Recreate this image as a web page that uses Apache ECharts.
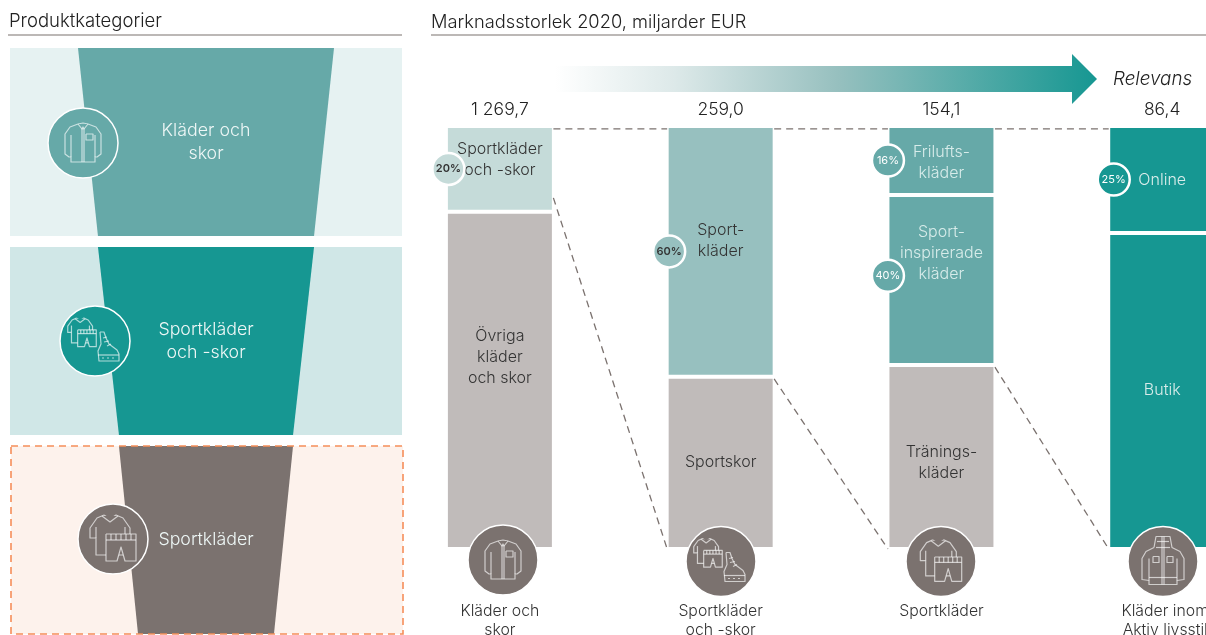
<!DOCTYPE html>
<html>
<head>
<meta charset="utf-8">
<title>Marknadsstorlek 2020</title>
<script src="https://cdn.jsdelivr.net/npm/echarts@6/dist/echarts.min.js"></script>
<style>
html, body { margin: 0; padding: 0; background: #fff; }
#grafico { width: 1206px; height: 635px; }
</style>
</head>
<body>
<div id="grafico"></div>
<script>
// data
var categorias = ['Kläder och\nskor', 'Sportkläder\noch -skor', 'Sportkläder', 'Kläder inom\nAktiv livsstil'];
var totais = [1269.7, 259.0, 154.1, 86.4];

// share of each column in %, from the top down
var andelTopp = [20.3, 59.3, 16.3, 25.3];
var andelMitt = [79.7, 40.7, 40.2, 74.7];
var andelBotten = [null, null, 43.5, null];
var etiketterTopp = ['Sportkläder\noch -skor', 'Sport-\nkläder', 'Frilufts-\nkläder', 'Online'];
var etiketterMitt = ['Övriga\nkläder\noch skor', 'Sportskor', 'Sport-\ninspirerade\nkläder', 'Butik'];
var etiketterBotten = ['', '', 'Tränings-\nkläder', ''];

// circles on the left edge of the columns
var bubblaKolumn = [0, 1, 2, 2, 3];
var bubblaSegment = [0, 0, 0, 1, 0];
var bubblaAndel = [20, 60, 16, 40, 25];

// where the dashed lines leave each column, in % of column height
var linjeStart = [17, 59.8, 57];

// left panel funnel
var trattNamn = ['Kläder och\nskor', 'Sportkläder\noch -skor', 'Sportkläder', ''];
var trattVarden = [100, 84.4, 68, 53.1];

var TEAL = '#169792', TEAL2 = '#66a9a8', TEAL3 = '#97c0bf', TEAL4 = '#c5dbd9';
var GRA = '#7b726f', LJUSGRA = '#c0bbba', MORK = '#333333', LJUS = '#d8ecea';
var FONT = 'Inter';
var BAR_W = 105;

function cirkelY(i) {
    // middle of the segment the circle belongs to, a bit higher for the second one
    var k = bubblaKolumn[i];
    if (bubblaSegment[i] === 0) return andelTopp[k] / 2;
    return andelTopp[k] + andelMitt[k] / 2 - 1;
}

function formatTotal(v) {
    return v.toFixed(1).replace('.', ',').replace(/^(\d+)(\d{3}),/, '$1 $2,');
}

function flytta(lines, dx, dy, s) {
    return lines.map(function (l) {
        return l.map(function (p) { return [p[0] * s + dx, p[1] * s + dy]; });
    });
}

// line icons, drawn around 0,0
var SKJORTA = [
    [[-5, -19], [-13, -16], [-18, -9], [-18, 11], [-14, 14], [-12, 14], [-12, 19], [12, 19], [12, 14], [14, 14], [18, 11], [18, -9], [13, -16], [5, -19], [0, -20], [-5, -19]],
    [[-12, -8], [-12, 14]], [[12, -8], [12, 14]],
    [[-1, -15], [-1, 19]], [[1, -15], [1, 19]],
    [[-5, -19], [-1, -14], [0, -16], [1, -14], [5, -19]],
    [[3, -9], [10, -9], [10, -3], [3, -3], [3, -9]]
];
var TROJA_SHORTS = [
    [[-9, -24], [-16, -21], [-23, -11], [-23, -1], [-17, -1], [-17, 16], [12, 16], [12, -1], [17, -1], [17, -11], [10, -21], [3, -24], [-3, -20], [-9, -24]],
    [[-17, -12], [-17, -1]], [[12, -12], [12, -1]],
    [[-11, -23], [-3, -17], [5, -23]],
    [[-7, -5], [23, -5], [23, 22], [12, 22], [8, 8], [4, 22], [-7, 22], [-7, -5]],
    [[-7, 1], [23, 1]],
    [[-2, -5], [-2, 1]], [[3, -5], [3, 1]], [[8, -5], [8, 1]], [[13, -5], [13, 1]], [[18, -5], [18, 1]]
];
var SKO = [
    [[5, -9], [9, -9], [11, -3], [14, 3], [22, 9], [24, 13], [24, 20], [4, 20], [3, 10], [6, 3], [5, -9]],
    [[3, 14], [24, 14]],
    [[7, 17], [9, 17]], [[12, 17], [14, 17]], [[17, 17], [19, 17]],
    [[8, -3], [12, -4]], [[9, 1], [14, 0]], [[12, 5], [16, 3]]
];
var TROJA_SKO = flytta(TROJA_SHORTS, -13, -8, 0.62).concat(SKO);
var JACKA = [
    [[-9, -14], [-7, -25], [7, -25], [9, -14], [17, -10], [21, -3], [21, 18], [14, 19], [14, 23], [-14, 23], [-14, 19], [-21, 18], [-21, -3], [-17, -10], [-9, -14]],
    [[-14, -3], [-14, 19]], [[14, -3], [14, 19]],
    [[-1, -25], [-1, 23]], [[1, -25], [1, 23]],
    [[-6, -20], [6, -20]], [[-7, -14], [7, -14]],
    [[-10, -5], [-4, -5], [-4, 1], [-10, 1], [-10, -5]], [[4, -5], [10, -5], [10, 1], [4, 1], [4, -5]],
    [[-14, 16], [14, 16]]
];

function ikon(cx, cy, fill, lines) {
    var barn = [{ type: 'circle', shape: { cx: 0, cy: 0, r: 35 }, style: { fill: fill, stroke: '#fff', lineWidth: 1.5 } }];
    lines.forEach(function (l) {
        barn.push({
            type: 'polyline',
            shape: { points: l },
            style: { stroke: 'rgba(255,255,255,0.65)', fill: fill, lineWidth: 1.2, lineJoin: 'round' }
        });
    });
    return { type: 'group', x: cx, y: cy, children: barn };
}

var ikoner = [
    { type: 'rect', shape: { x: 11, y: 446, width: 392, height: 188 }, style: { fill: 'none', stroke: '#f58e5a', lineWidth: 1.6, lineDash: [7, 5] } },
    ikon(83, 143, TEAL2, SKJORTA),
    ikon(95, 341, TEAL, TROJA_SKO),
    ikon(113, 539, GRA, TROJA_SHORTS),
    ikon(503, 560, GRA, SKJORTA),
    ikon(721, 561.5, GRA, TROJA_SKO),
    ikon(941, 561.5, GRA, flytta(TROJA_SHORTS, 0, 0, 0.9)),
    ikon(1163, 561.5, GRA, JACKA)
];

function panel(x, y, fill) {
    return { type: 'rect', silent: true, shape: { x: x, y: y, width: 392, height: 188 }, style: { fill: fill } };
}

function rubrikLinje(x1, x2) {
    return { type: 'line', silent: true, shape: { x1: x1, y1: 35, x2: x2, y2: 35 }, style: { stroke: GRA, lineWidth: 1.2 } };
}

function segment(varden, etiketter, farger, textFarger, forskjut) {
    return {
        type: 'bar',
        stack: 'kolumn',
        barWidth: BAR_W + 3,
        xAxisIndex: 0,
        data: varden.map(function (v, i) {
            return {
                value: v,
                itemStyle: { color: farger[i], borderColor: '#fff', borderWidth: 2 },
                label: {
                    show: v != null,
                    position: 'inside',
                    formatter: etiketter[i],
                    color: textFarger[i],
                    fontFamily: FONT,
                    fontWeight: 300,
                    fontSize: 16,
                    lineHeight: 21,
                    offset: [0, forskjut[i]]
                }
            };
        })
    };
}

var kopplingar = [];
linjeStart.forEach(function (v, i) {
    kopplingar.push([i, 0.7, i + 1, 0.7]);
    kopplingar.push([i, v, i + 1, 100]);
});

var bubblor = bubblaAndel.map(function (p, i) {
    return [bubblaKolumn[i], cirkelY(i), p];
});

function ritaKoppling(params, api) {
    var a = api.coord([api.value(0), api.value(1)]);
    var b = api.coord([api.value(2), api.value(3)]);
    return {
        type: 'line',
        shape: { x1: a[0] + BAR_W / 2 + 1, y1: a[1], x2: b[0] - BAR_W / 2 - 1, y2: b[1] },
        style: { stroke: GRA, lineWidth: 1.3, lineDash: [7, 5], fill: null }
    };
}

function ritaBubbla(params, api) {
    var k = api.value(0);
    var p = api.coord([k, api.value(1)]);
    var farg = [TEAL4, TEAL3, TEAL2, TEAL][k];
    var text = k < 2 ? MORK : '#ffffff';
    var x = p[0] - BAR_W / 2 + [1, 1, -1, 4][k];
    return {
        type: 'group',
        children: [
            { type: 'circle', shape: { cx: x, cy: p[1], r: 16 }, style: { fill: farg, stroke: '#fff', lineWidth: 2.5 } },
            {
                type: 'text',
                style: {
                    x: x, y: p[1], text: api.value(2) + '%', fill: text, align: 'center', verticalAlign: 'middle',
                    fontFamily: FONT, fontSize: 11, fontWeight: k < 2 ? 600 : 400
                }
            }
        ]
    };
}

var myChart = echarts.init(document.getElementById('grafico'));

var kategoriText = { color: MORK, fontFamily: FONT, fontWeight: 300, fontSize: 15.8, lineHeight: 19 };

var option = {
    animation: false,
    backgroundColor: '#ffffff',
    title: [
        { text: 'Produktkategorier', left: 9, top: 12, padding: 0, textStyle: { fontFamily: FONT, fontSize: 18.5, fontWeight: 300, color: '#222' } },
        { text: 'Marknadsstorlek 2020, miljarder EUR', left: 431, top: 14, padding: 0, textStyle: { fontFamily: FONT, fontSize: 18.3, fontWeight: 300, color: '#222' } }
    ],
    grid: { left: 389.5, right: -66.6, top: 126, bottom: 86, outerBoundsMode: 'none' },
    xAxis: [
        {
            type: 'category',
            position: 'bottom',
            data: categorias,
            axisLine: { show: false, onZero: false },
            axisTick: { show: false },
            axisLabel: {
                interval: 0,
                margin: 53,
                color: MORK,
                fontFamily: FONT,
                fontWeight: 300,
                fontSize: 15.8,
                lineHeight: 19,
                // last label runs past the edge of the page, as in the original
                formatter: function (value, i) {
                    if (i !== 3) return value;
                    return value.split('\n').map(function (r) { return '{sista|' + r + '}'; }).join('\n');
                },
                rich: { sista: Object.assign({ padding: [0, 0, 0, 6] }, kategoriText) }
            }
        },
        {
            type: 'category',
            position: 'top',
            data: totais.map(formatTotal),
            axisLine: { show: false, onZero: false },
            axisTick: { show: false },
            axisLabel: { interval: 0, margin: 7, color: '#222', fontFamily: FONT, fontWeight: 300, fontSize: 17.5 }
        }
    ],
    yAxis: { type: 'value', inverse: true, min: 0, max: 100, show: false },
    series: [
        {
            type: 'funnel',
            sort: 'none',
            left: 78,
            top: 48,
            width: 256,
            height: 785,
            gap: 11,
            min: 0,
            max: 100,
            minSize: '0%',
            maxSize: '100%',
            silent: true,
            label: {
                show: true,
                position: 'inside',
                formatter: '{b}',
                color: '#eef7f6',
                fontFamily: FONT,
                fontWeight: 300,
                fontSize: 17.8,
                lineHeight: 23
            },
            labelLine: { show: false },
            itemStyle: { borderWidth: 0 },
            data: trattVarden.map(function (v, i) {
                return {
                    name: trattNamn[i],
                    value: v,
                    itemStyle: { color: [TEAL2, TEAL, GRA, 'rgba(0,0,0,0)'][i] }
                };
            })
        },
        segment(andelTopp, etiketterTopp, [TEAL4, TEAL3, TEAL2, TEAL], [MORK, MORK, LJUS, LJUS], [-9, -11, 2, 1]),
        segment(andelMitt, etiketterMitt, [LJUSGRA, LJUSGRA, TEAL2, TEAL], [MORK, MORK, LJUS, LJUS], [-23, -1, -27, -1]),
        segment(andelBotten, etiketterBotten, [LJUSGRA, LJUSGRA, LJUSGRA, LJUSGRA], [MORK, MORK, MORK, MORK], [0, 0, 6, 0]),
        { type: 'custom', z: 5, renderItem: ritaKoppling, data: kopplingar, silent: true, encode: { x: [0, 2], y: [1, 3] } },
        { type: 'custom', z: 6, renderItem: ritaBubbla, data: bubblor, silent: true, encode: { x: 0, y: 1 } },
        {
            type: 'custom',
            z: 10,
            coordinateSystem: 'none',
            silent: true,
            data: ikoner.map(function (d, i) { return i; }),
            renderItem: function (params) { return ikoner[params.dataIndex]; }
        }
    ],
    graphic: { elements: [
        rubrikLinje(8, 402),
        rubrikLinje(431, 1206),
        panel(10, 48, '#e6f2f2'),
        panel(10, 247, '#d0e7e7'),
        panel(11, 446, '#fdf2ec'),
        {
            type: 'polygon', silent: true,
            shape: { points: [[555, 66], [1072, 66], [1072, 54], [1097, 79], [1072, 104], [1072, 92], [555, 92]] },
            style: { fill: new echarts.graphic.LinearGradient(0, 0, 1, 0, [
                { offset: 0, color: '#ffffff' },
                { offset: 0.22, color: '#dde9e9' },
                { offset: 0.52, color: '#97c0bf' },
                { offset: 1, color: '#169792' }
            ]) }
        },
        {
            type: 'text', silent: true, x: 1113, y: 79,
            style: { text: 'Relevans', fill: '#222', fontFamily: FONT, fontStyle: 'italic', fontWeight: 300, fontSize: 18.8, verticalAlign: 'middle' }
        }
    ] }
};

myChart.setOption(option);
</script>
</body>
</html>
